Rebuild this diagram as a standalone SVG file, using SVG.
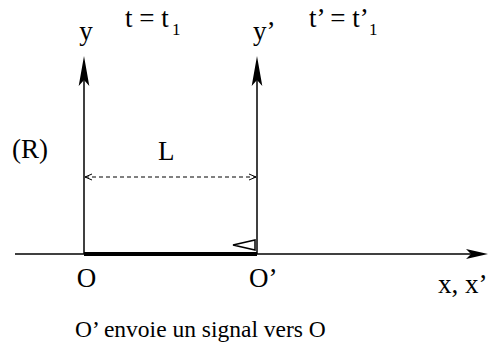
<svg xmlns="http://www.w3.org/2000/svg" width="488" height="349" viewBox="0 0 488 349">
<style>
text{font-family:'Times New Roman','Liberation Serif','DejaVu Serif',serif;fill:#000}
.lbl{font-size:27px}
.sub{font-size:17px}
.cap{font-size:23.5px}
.ln{stroke:#000;stroke-width:1.5;fill:none}
.head{fill:#000;stroke:none}
</style>
<rect width="488" height="349" fill="#fff"/>
<g id="connectors">
  <line class="ln" x1="15" y1="254" x2="474" y2="254"/>
  <path class="head" d="M488,254 L466,249 L471,254 L466,259 Z"/>
  <line x1="84" y1="254" x2="257" y2="254" stroke="#000" stroke-width="4"/>
  <line class="ln" x1="84" y1="80" x2="84" y2="254"/>
  <path class="head" d="M84,56 L78.7,86 L84,80 L89.3,86 Z"/>
  <line class="ln" x1="257" y1="80" x2="257" y2="254"/>
  <path class="head" d="M257,56 L251.7,86 L257,80 L262.3,86 Z"/>
  <line x1="85" y1="177" x2="256" y2="177" stroke="#000" stroke-width="1" stroke-dasharray="4,3"/>
  <path d="M92,174 L85,177 L92,180 M249,174 L256,177 L249,180" stroke="#000" stroke-width="1" fill="none"/>
  <polygon points="233,245 255,240 255,250" fill="#fff" stroke="#000" stroke-width="1.5"/>
</g>
<g id="label-y"><text class="lbl" x="86" y="40" text-anchor="middle">y</text></g>
<g id="label-t"><text class="lbl" x="125" y="27">t = t</text><text class="sub" x="172" y="35">1</text></g>
<g id="label-yp"><text class="lbl" x="253" y="40">y’</text></g>
<g id="label-tp"><text class="lbl" x="309" y="27">t’ = t’</text><text class="sub" x="369" y="35">1</text></g>
<g id="label-R"><text class="lbl" x="12" y="158">(R)</text></g>
<g id="label-L"><text class="lbl" x="158" y="160">L</text></g>
<g id="label-O"><text class="lbl" x="86.5" y="287" text-anchor="middle">O</text></g>
<g id="label-Op"><text class="lbl" x="249" y="287">O’</text></g>
<g id="label-x"><text class="lbl" x="438" y="293">x, x’</text></g>
<g id="caption"><text class="cap" x="75" y="337">O’ envoie un signal vers O</text></g>
</svg>
